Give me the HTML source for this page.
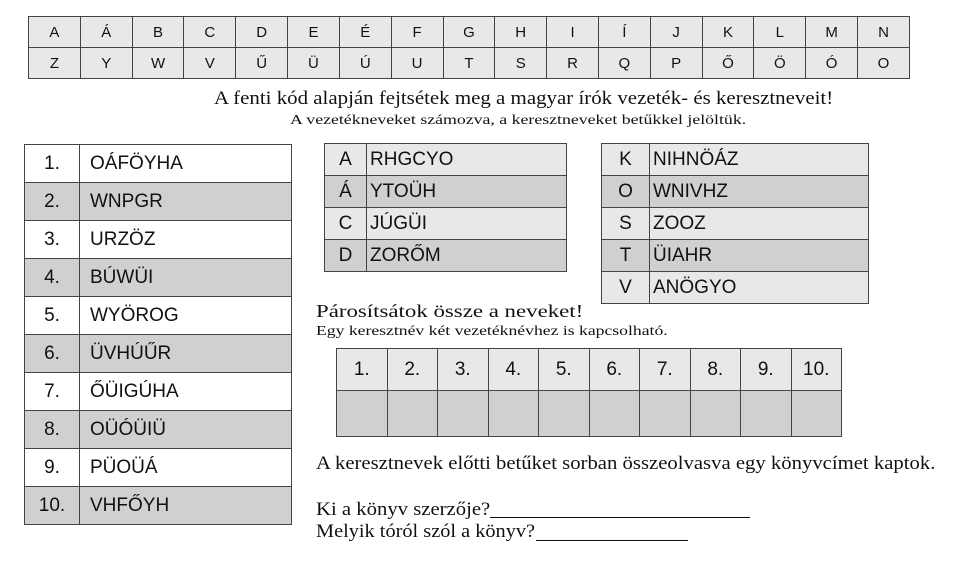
<!DOCTYPE html>
<html><head><meta charset="utf-8"><style>
body{margin:0;width:960px;height:576px;background:#fff;position:relative;overflow:hidden;font-family:"Liberation Sans",sans-serif;color:#111}
table{position:absolute;border-collapse:collapse;table-layout:fixed}
td{border:1px solid #444;padding:0;overflow:hidden;white-space:nowrap}
.t1 td{background:#e8e8e8;text-align:center;font-size:15px;height:30px}
.l td{font-size:19px;height:37px}
.l td.n{text-align:center}
.l td.w{padding-left:10px}
.g td{background:#d0d0d0}
.m td{font-size:19px;height:31px}
.m td.n{text-align:center}
.m td.w{padding-left:3px}
.lt td{background:#e8e8e8}
.a td{text-align:center;font-size:19px}
.s{position:absolute;font-family:"Liberation Serif",serif;white-space:nowrap;transform-origin:0 0}
</style></head><body>
<table class="t1" style="left:28px;top:16px;width:882px">
<tr><td>A</td><td>Á</td><td>B</td><td>C</td><td>D</td><td>E</td><td>É</td><td>F</td><td>G</td><td>H</td><td>I</td><td>Í</td><td>J</td><td>K</td><td>L</td><td>M</td><td>N</td></tr>
<tr><td>Z</td><td>Y</td><td>W</td><td>V</td><td>Ű</td><td>Ü</td><td>Ú</td><td>U</td><td>T</td><td>S</td><td>R</td><td>Q</td><td>P</td><td>Ő</td><td>Ö</td><td>Ó</td><td>O</td></tr>
</table>
<div class="s" style="left:214px;top:88px;font-size:19px;transform:scaleX(1.1)">A fenti kód alapján fejtsétek meg a magyar írók vezeték- és keresztneveit!</div>
<div class="s" style="left:290px;top:113px;font-size:14px;transform:scaleX(1.27)">A vezetékneveket számozva, a keresztneveket betűkkel jelöltük.</div>

<table class="l" style="left:24px;top:144px;width:268px">
<colgroup><col style="width:55px"><col></colgroup>
<tr><td class="n">1.</td><td class="w">OÁFÖYHA</td></tr>
<tr class="g"><td class="n">2.</td><td class="w">WNPGR</td></tr>
<tr><td class="n">3.</td><td class="w">URZÖZ</td></tr>
<tr class="g"><td class="n">4.</td><td class="w">BÚWÜI</td></tr>
<tr><td class="n">5.</td><td class="w">WYÖROG</td></tr>
<tr class="g"><td class="n">6.</td><td class="w">ÜVHÚŰR</td></tr>
<tr><td class="n">7.</td><td class="w">ŐÜIGÚHA</td></tr>
<tr class="g"><td class="n">8.</td><td class="w">OÜÓÜIÜ</td></tr>
<tr><td class="n">9.</td><td class="w">PÜOÜÁ</td></tr>
<tr class="g"><td class="n">10.</td><td class="w">VHFŐYH</td></tr>
</table>

<table class="m" style="left:324px;top:143px;width:243px">
<colgroup><col style="width:42px"><col></colgroup>
<tr class="lt"><td class="n">A</td><td class="w">RHGCYO</td></tr>
<tr class="g"><td class="n">Á</td><td class="w">YTOÜH</td></tr>
<tr class="lt"><td class="n">C</td><td class="w">JÚGÜI</td></tr>
<tr class="g"><td class="n">D</td><td class="w">ZORŐM</td></tr>
</table>

<table class="m" style="left:601px;top:143px;width:268px">
<colgroup><col style="width:48px"><col></colgroup>
<tr class="lt"><td class="n">K</td><td class="w">NIHNÖÁZ</td></tr>
<tr class="g"><td class="n">O</td><td class="w">WNIVHZ</td></tr>
<tr class="lt"><td class="n">S</td><td class="w">ZOOZ</td></tr>
<tr class="g"><td class="n">T</td><td class="w">ÜIAHR</td></tr>
<tr class="lt"><td class="n">V</td><td class="w">ANÖGYO</td></tr>
</table>

<div class="s" style="left:316px;top:301px;font-size:18px;transform:scaleX(1.27)">Párosítsátok össze a neveket!</div>
<div class="s" style="left:316px;top:324px;font-size:14px;transform:scaleX(1.26)">Egy keresztnév két vezetéknévhez is kapcsolható.</div>

<table class="a" style="left:336px;top:348px;width:506px">
<tr class="lt"><td style="height:41px">1.</td><td>2.</td><td>3.</td><td>4.</td><td>5.</td><td>6.</td><td>7.</td><td>8.</td><td>9.</td><td>10.</td></tr>
<tr class="g"><td style="height:45px"></td><td></td><td></td><td></td><td></td><td></td><td></td><td></td><td></td><td></td></tr>
</table>

<div class="s" style="left:316px;top:453px;font-size:19px;transform:scaleX(1.09)">A keresztnevek előtti betűket sorban összeolvasva egy könyvcímet kaptok.</div>
<div class="s" style="left:316px;top:499px;font-size:19px;transform:scaleX(1.09)">Ki a könyv szerzője?</div>
<div style="position:absolute;left:490px;top:517px;width:260px;border-top:1px solid #111"></div>
<div class="s" style="left:316px;top:521px;font-size:19px;transform:scaleX(1.07)">Melyik tóról szól a könyv?</div>
<div style="position:absolute;left:536px;top:540px;width:152px;border-top:1px solid #111"></div>
</body></html>
